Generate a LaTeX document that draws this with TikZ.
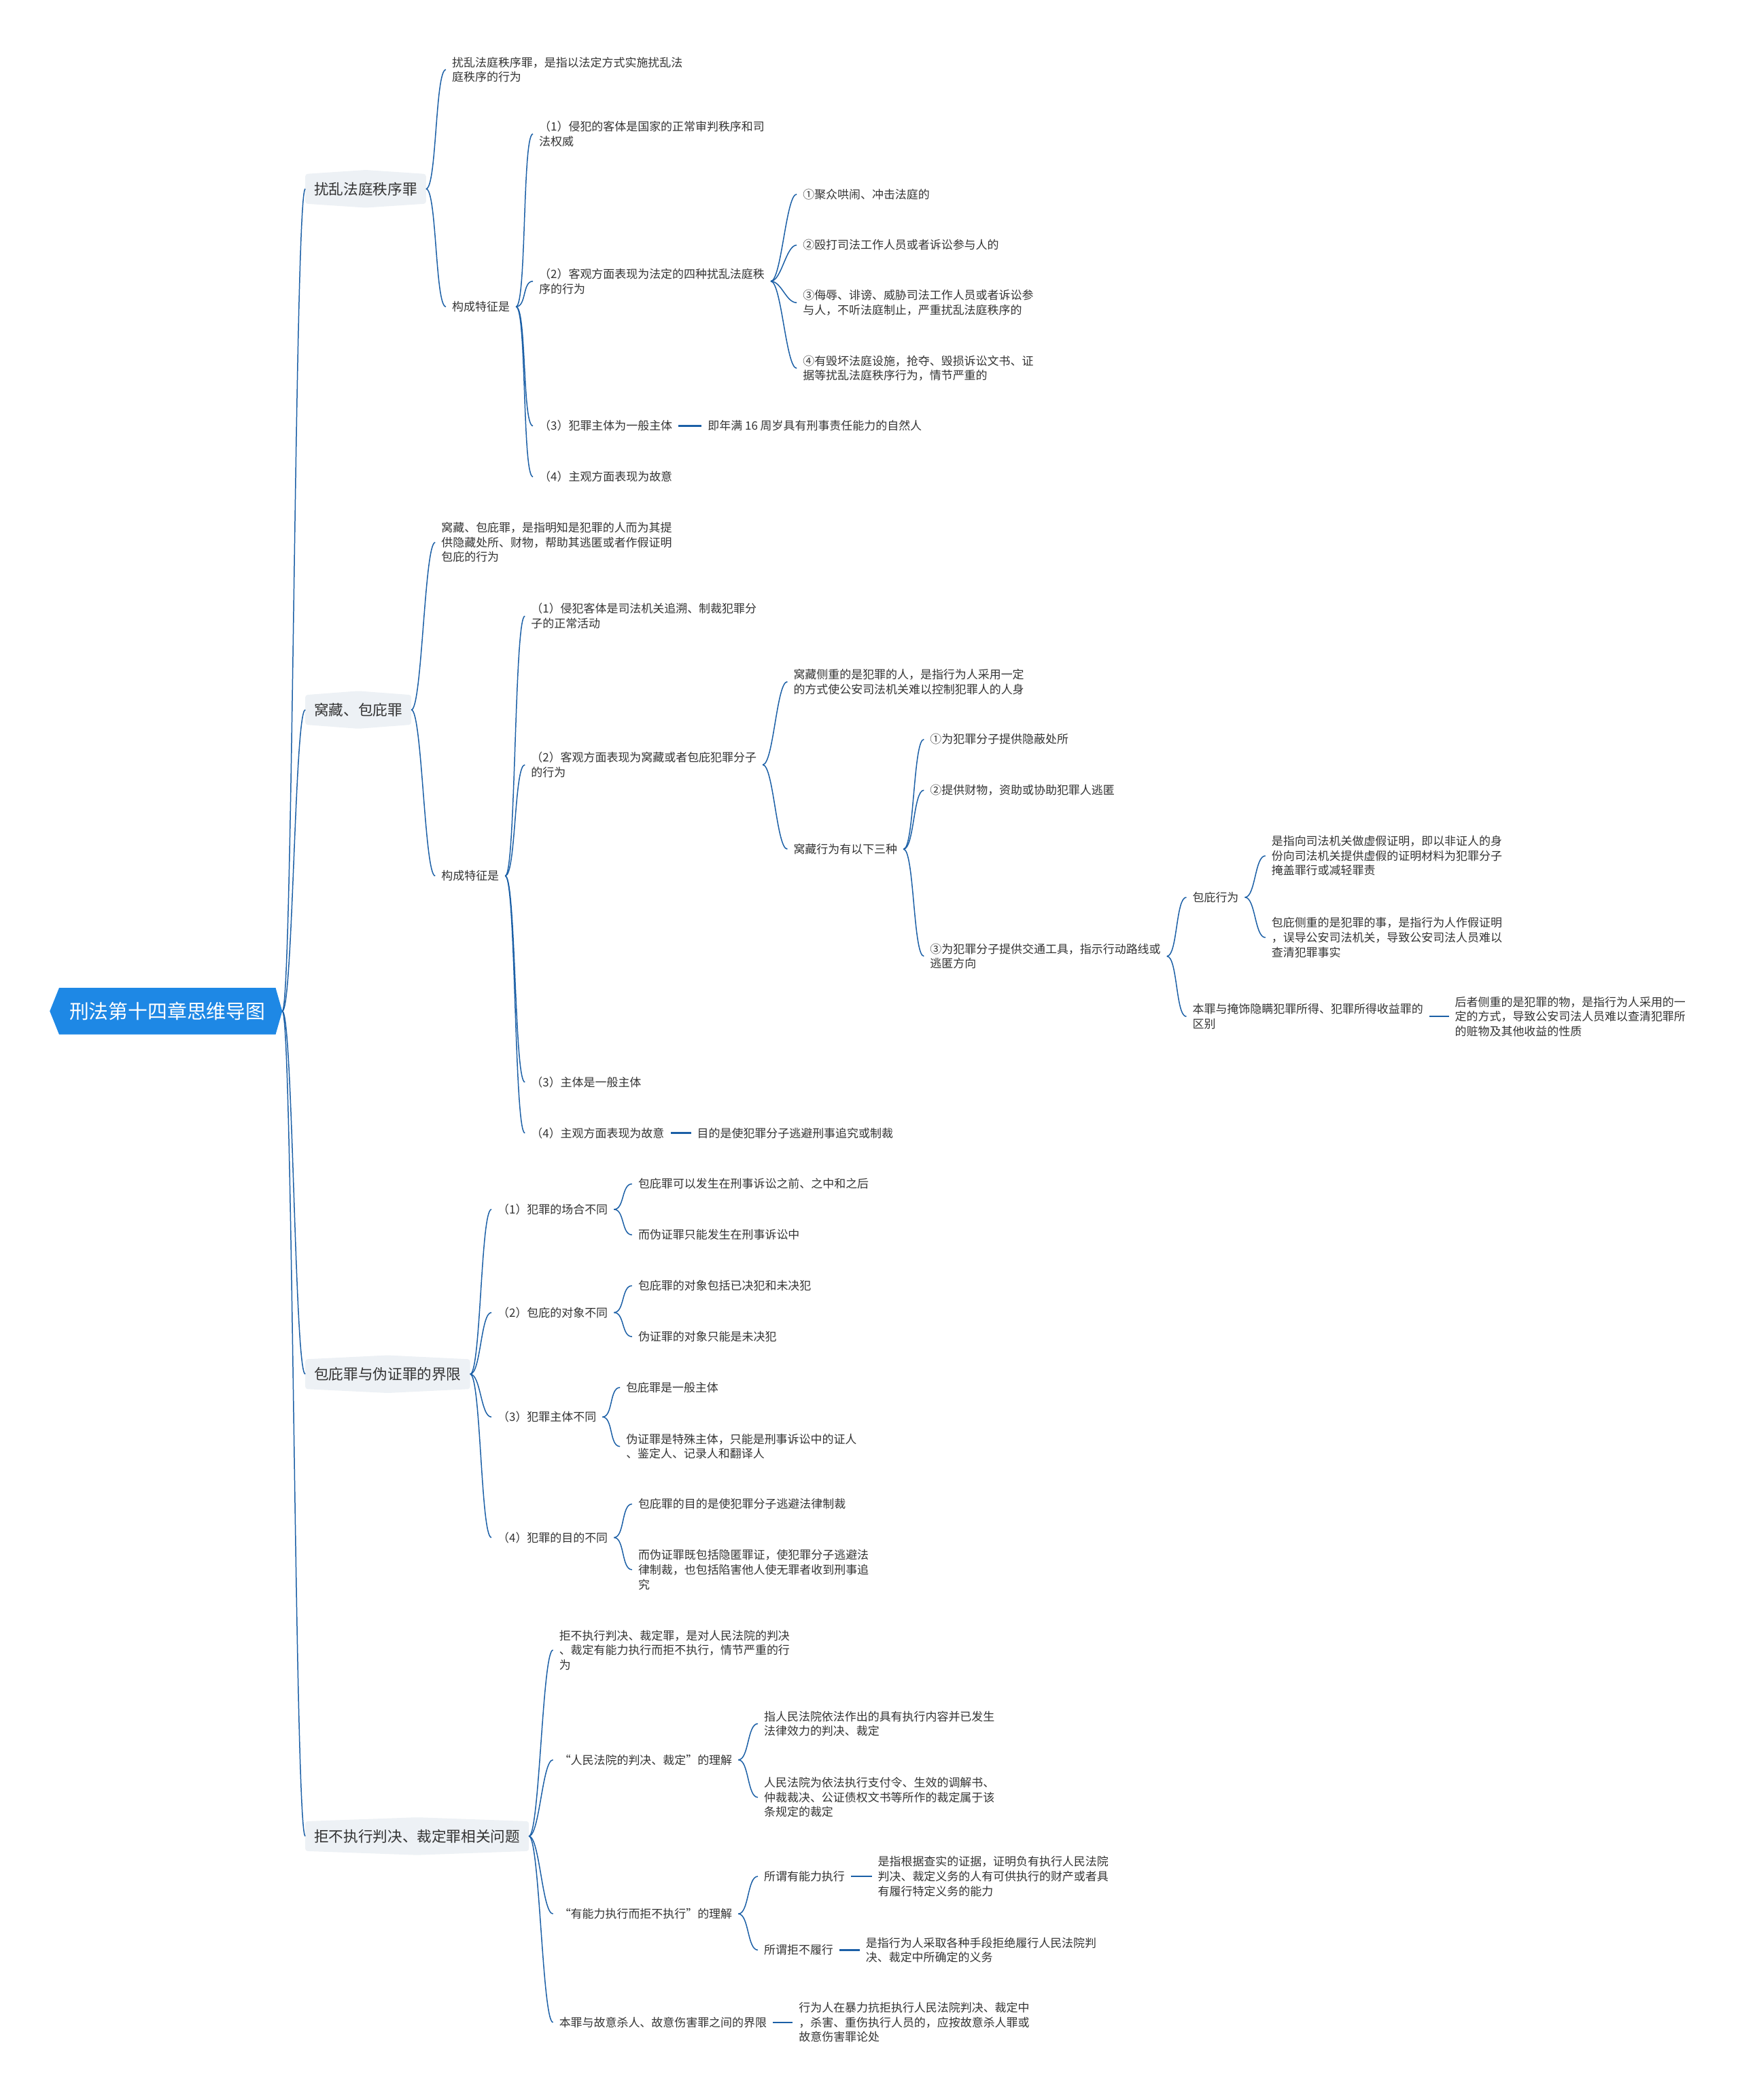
\documentclass[tikz,border=0pt]{standalone}
\usepackage{fontspec}
\setmainfont{Noto Sans CJK SC}
\usetikzlibrary{calc}
\definecolor{rootblue}{HTML}{1E88E5}
\definecolor{branchgray}{HTML}{EDF1F5}
\definecolor{linkblue}{HTML}{1B5FA6}
\definecolor{txt}{HTML}{333333}
\pgfdeclarelayer{bg}
\pgfsetlayers{bg,main}

\begin{document}
\begin{tikzpicture}[x=0.0394cm, y=-0.0394cm,
	root/.style={inner xsep=8.4pt, minimum height=13.6mm, text=white, font=\fontsize{16.4}{20}\selectfont},
	main/.style={anchor=west, inner xsep=7.3pt, minimum height=8.6mm, text=txt, font=\fontsize{12.3}{15}\selectfont},
	leaf/.style={anchor=west, align=left, inner xsep=5pt, inner ysep=1pt, text=txt, font=\fontsize{9.65}{12.3}\selectfont},
	link/.style={draw=linkblue, line width=0.85pt},
	bar/.style={draw=linkblue, line width=1.4pt}]
	\useasboundingbox (0,0) rectangle (1299,1568);
	
	% goc
	\node[root] (root) at (125,755) {刑法第十四章思维导图};
	\coordinate (rtip) at ($(root.east)+(5,0)$);
	
	% nhanh chinh
	\node[main] (b1) at (228,141) {扰乱法庭秩序罪};
	\node[main] (b2) at (228,530) {窝藏、包庇罪};
	\node[main] (b3) at (228,1026) {包庇罪与伪证罪的界限};
	\node[main] (b4) at (228,1371) {拒不执行判决、裁定罪相关问题};
	
	% nhanh 1
	\node[leaf] (c11) at (333,52) {扰乱法庭秩序罪，是指以法定方式实施扰乱法\\庭秩序的行为};
	\node[leaf] (c12) at (333,229) {构成特征是};
	\node[leaf] (d1) at (398,100) {（1）侵犯的客体是国家的正常审判秩序和司\\法权威};
	\node[leaf] (d2) at (398,210) {（2）客观方面表现为法定的四种扰乱法庭秩\\序的行为};
	\node[leaf] (d3) at (398,318) {（3）犯罪主体为一般主体};
	\node[leaf] (d4) at (398,356) {（4）主观方面表现为故意};
	\node[leaf] (e3) at (524,318) {即年满 16 周岁具有刑事责任能力的自然人};
	\node[leaf] (f1) at (595,145) {①聚众哄闹、冲击法庭的};
	\node[leaf] (f2) at (595,183) {②殴打司法工作人员或者诉讼参与人的};
	\node[leaf] (f3) at (595,226) {③侮辱、诽谤、威胁司法工作人员或者诉讼参\\与人，不听法庭制止，严重扰乱法庭秩序的};
	\node[leaf] (f4) at (595,275) {④有毁坏法庭设施，抢夺、毁损诉讼文书、证\\据等扰乱法庭秩序行为，情节严重的};
	
	% nhanh 2
	\node[leaf] (g1) at (325,405) {窝藏、包庇罪，是指明知是犯罪的人而为其提\\供隐藏处所、财物，帮助其逃匿或者作假证明\\包庇的行为};
	\node[leaf] (g2) at (325,654) {构成特征是};
	\node[leaf] (h1) at (392,460) {（1）侵犯客体是司法机关追溯、制裁犯罪分\\子的正常活动};
	\node[leaf] (h2) at (392,571) {（2）客观方面表现为窝藏或者包庇犯罪分子\\的行为};
	\node[leaf] (h3) at (392,808) {（3）主体是一般主体};
	\node[leaf] (h4) at (392,846) {（4）主观方面表现为故意};
	\node[leaf] (i4) at (516,846) {目的是使犯罪分子逃避刑事追究或制裁};
	\node[leaf] (j1) at (588,509) {窝藏侧重的是犯罪的人，是指行为人采用一定\\的方式使公安司法机关难以控制犯罪人的人身};
	\node[leaf] (j2) at (588,634) {窝藏行为有以下三种};
	\node[leaf] (k1) at (690,552) {①为犯罪分子提供隐蔽处所};
	\node[leaf] (k2) at (690,590) {②提供财物，资助或协助犯罪人逃匿};
	\node[leaf] (k3) at (690,714) {③为犯罪分子提供交通工具，指示行动路线或\\逃匿方向};
	\node[leaf] (l1) at (886,670) {包庇行为};
	\node[leaf] (l2) at (886,759) {本罪与掩饰隐瞒犯罪所得、犯罪所得收益罪的\\区别};
	\node[leaf] (m1) at (945,639) {是指向司法机关做虚假证明，即以非证人的身\\份向司法机关提供虚假的证明材料为犯罪分子\\掩盖罪行或减轻罪责};
	\node[leaf] (m2) at (945,700) {包庇侧重的是犯罪的事，是指行为人作假证明\\，误导公安司法机关，导致公安司法人员难以\\查清犯罪事实};
	\node[leaf] (m3) at (1082,759) {后者侧重的是犯罪的物，是指行为人采用的一\\定的方式，导致公安司法人员难以查清犯罪所\\的赃物及其他收益的性质};
	
	% nhanh 3
	\node[leaf] (n1) at (367,903) {（1）犯罪的场合不同};
	\node[leaf] (n2) at (367,980) {（2）包庇的对象不同};
	\node[leaf] (n3) at (367,1058) {（3）犯罪主体不同};
	\node[leaf] (n4) at (367,1148) {（4）犯罪的目的不同};
	\node[leaf] (o11) at (472,884) {包庇罪可以发生在刑事诉讼之前、之中和之后};
	\node[leaf] (o12) at (472,922) {而伪证罪只能发生在刑事诉讼中};
	\node[leaf] (o21) at (472,960) {包庇罪的对象包括已决犯和未决犯};
	\node[leaf] (o22) at (472,998) {伪证罪的对象只能是未决犯};
	\node[leaf] (o31) at (463,1036) {包庇罪是一般主体};
	\node[leaf] (o32) at (463,1080) {伪证罪是特殊主体，只能是刑事诉讼中的证人\\、鉴定人、记录人和翻译人};
	\node[leaf] (o41) at (472,1123) {包庇罪的目的是使犯罪分子逃避法律制裁};
	\node[leaf] (o42) at (472,1172) {而伪证罪既包括隐匿罪证，使犯罪分子逃避法\\律制裁，也包括陷害他人使无罪者收到刑事追\\究};
	
	% nhanh 4
	\node[leaf] (p1) at (413,1232) {拒不执行判决、裁定罪，是对人民法院的判决\\、裁定有能力执行而拒不执行，情节严重的行\\为};
	\node[leaf] (p2) at (413,1314) {“人民法院的判决、裁定”的理解};
	\node[leaf] (p3) at (413,1429) {“有能力执行而拒不执行”的理解};
	\node[leaf] (p4) at (413,1510) {本罪与故意杀人、故意伤害罪之间的界限};
	\node[leaf] (q1) at (566,1287) {指人民法院依法作出的具有执行内容并已发生\\法律效力的判决、裁定};
	\node[leaf] (q2) at (566,1342) {人民法院为依法执行支付令、生效的调解书、\\仲裁裁决、公证债权文书等所作的裁定属于该\\条规定的裁定};
	\node[leaf] (q3) at (566,1401) {所谓有能力执行};
	\node[leaf] (q4) at (566,1456) {所谓拒不履行};
	\node[leaf] (r3) at (651,1401) {是指根据查实的证据，证明负有执行人民法院\\判决、裁定义务的人有可供执行的财产或者具\\有履行特定义务的能力};
	\node[leaf] (r4) at (642,1456) {是指行为人采取各种手段拒绝履行人民法院判\\决、裁定中所确定的义务};
	\node[leaf] (r5) at (592,1510) {行为人在暴力抗拒执行人民法院判决、裁定中\\，杀害、重伤执行人员的，应按故意杀人罪或\\故意伤害罪论处};
	
	% nen
	\begin{pgfonlayer}{bg}
		\fill[rootblue] ($(root.west)+(-7,0)$) -- (root.north west) -- (root.north east) -- (rtip) -- (root.south east) -- (root.south west) -- cycle;
		\foreach \b in {b1,b2,b3,b4}
		\fill[branchgray, rounded corners=2pt] (\b.north west) -- ($(\b.north)+(0,-3)$) -- (\b.north east) -- (\b.south east) -- ($(\b.south)+(0,3)$) -- (\b.south west) -- cycle;
	\end{pgfonlayer}
	
	% duong noi
	\foreach \c in {b1,b2,b3,b4}
	\draw[link] (rtip) .. controls +(8,0) and +(-8,0) .. (\c.west);
	\foreach \p/\c in {b1/c11,b1/c12,c12/d1,c12/d2,c12/d3,c12/d4,d2/f1,d2/f2,d2/f3,d2/f4,
		b2/g1,b2/g2,g2/h1,g2/h2,g2/h3,g2/h4,h2/j1,h2/j2,j2/k1,j2/k2,j2/k3,k3/l1,k3/l2,l1/m1,l1/m2,
		b3/n1,b3/n2,b3/n3,b3/n4,n1/o11,n1/o12,n2/o21,n2/o22,n3/o31,n3/o32,n4/o41,n4/o42,
		b4/p1,b4/p2,b4/p3,b4/p4,p2/q1,p2/q2,p3/q3,p3/q4}
	\draw[link] (\p.east) .. controls +(8,0) and +(-8,0) .. (\c.west);
	\foreach \p/\c in {d3/e3,h4/i4,l2/m3,q3/r3,q4/r4,p4/r5}
	\draw[bar] (\p.east) -- (\c.west);
\end{tikzpicture}
\end{document}
